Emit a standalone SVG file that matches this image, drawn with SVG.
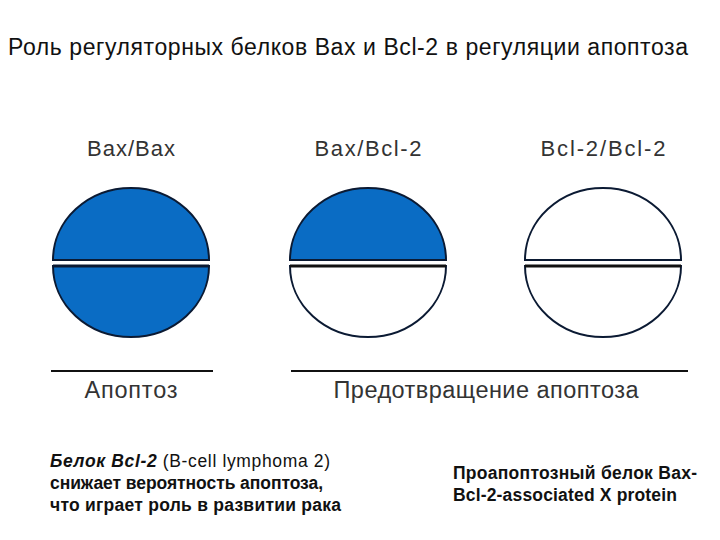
<svg xmlns="http://www.w3.org/2000/svg" width="720" height="540" viewBox="0 0 720 540">
<style>
text{font-family:"Liberation Sans",Arial,sans-serif;fill:#111}
.title{font-size:23px}
.lbl{font-size:22px;fill:#333;text-anchor:middle}
.cap{font-size:23.5px;fill:#333;text-anchor:middle}
.note{font-size:17.5px}
.b{font-weight:bold}
.half{stroke:#0b1a33;stroke-width:2}
.blue{fill:#0a6cc4}
.white{fill:#fff}
.rule{stroke:#111;stroke-width:2}
</style>
<rect width="720" height="540" fill="#fff"/>
<text class="title" x="8" y="55" textLength="680" lengthAdjust="spacing">Роль регуляторных белков Bax и Bcl-2 в регуляции апоптоза</text>

<g id="bax-bax">
<text class="lbl" x="131" y="156" textLength="88" lengthAdjust="spacing">Bax/Bax</text>
<path class="half blue" d="M53,260 A78,72 0 0 1 209,260 Z"/>
<path class="half blue" d="M53,266 A78,71 0 0 0 209,266 Z"/>
<line x1="53" y1="266" x2="209" y2="266" stroke="#0b1a33" stroke-width="3"/>
</g>

<g id="bax-bcl2">
<text class="lbl" x="368" y="156" textLength="107" lengthAdjust="spacing">Bax/Bcl-2</text>
<path class="half blue" d="M290,260 A78,72 0 0 1 446,260 Z"/>
<path class="half white" d="M290,266 A78,71 0 0 0 446,266 Z"/>
<line x1="290" y1="266" x2="446" y2="266" stroke="#111" stroke-width="3"/>
</g>

<g id="bcl2-bcl2">
<text class="lbl" x="603" y="156" textLength="125" lengthAdjust="spacing">Bcl-2/Bcl-2</text>
<path class="half white" d="M525,260 A78,72 0 0 1 681,260 Z" stroke="#111"/>
<path class="half white" d="M525,266 A78,71 0 0 0 681,266 Z" stroke="#111"/>
<line x1="525" y1="266" x2="681" y2="266" stroke="#111" stroke-width="3"/>
</g>

<g id="apoptosis">
<line class="rule" x1="51" y1="371" x2="213" y2="371"/>
<text class="cap" x="131" y="398" textLength="93" lengthAdjust="spacing">Апоптоз</text>
</g>

<g id="prevention">
<line class="rule" x1="291" y1="371" x2="688" y2="371"/>
<text class="cap" x="486" y="398" textLength="305" lengthAdjust="spacing">Предотвращение апоптоза</text>
</g>

<g id="note-bcl2">
<text class="note" x="50" y="467" textLength="280" lengthAdjust="spacing"><tspan class="b" font-style="italic">Белок Bcl-2</tspan> (B-cell lymphoma 2)</text>
<text class="note b" x="50" y="489" textLength="273" lengthAdjust="spacing">снижает вероятность апоптоза,</text>
<text class="note b" x="50" y="511" textLength="291" lengthAdjust="spacing">что играет роль в развитии рака</text>
</g>

<g id="note-bax">
<text class="note b" x="453" y="479" textLength="244" lengthAdjust="spacing">Проапоптозный белок Bax-</text>
<text class="note b" x="453" y="501" textLength="224" lengthAdjust="spacing">Bcl-2-associated X protein</text>
</g>
</svg>
